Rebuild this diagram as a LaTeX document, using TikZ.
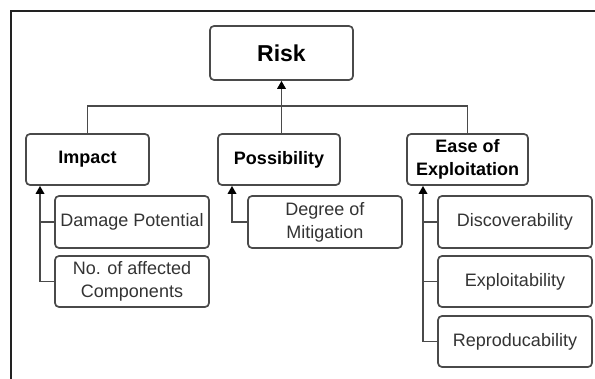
\documentclass[tikz,border=0pt]{standalone}
\usepackage{fontspec}
\setmainfont{Liberation Sans}
\usetikzlibrary{arrows.meta}
\definecolor{boxline}{HTML}{4A4A4A}
\definecolor{txt}{HTML}{333333}
\definecolor{frame}{HTML}{222222}
\tikzset{
  box/.style={draw=boxline, line width=1.7pt, rounded corners=4pt, align=center,
    inner sep=2pt, text=txt, font=\fontsize{18}{23}\selectfont},
  head/.style={box, text=black, font=\fontsize{18}{23}\selectfont\bfseries},
  link/.style={draw=boxline, line width=1.7pt},
  arr/.style={link, -{Triangle[length=8pt,width=8.5pt,color=black,fill=black]}}
}
\begin{document}
\begin{tikzpicture}[x=1pt,y=-1pt]
\useasboundingbox (0,0) rectangle (595,379);
% page frame (top and left edges)
\draw[frame, line width=2pt] (11,379) -- (11,11) -- (595,11);

% top level
\node[head, font=\fontsize{23}{27}\selectfont\bfseries, minimum width=143pt, minimum height=54pt] (risk) at (281.5,53) {Risk};

% second level
\node[head, minimum width=123pt, minimum height=51pt] (impact) at (87.5,159.5) {Impact};
\node[head, minimum width=122pt, minimum height=51pt] (poss) at (279,159.5) {Possibility};
\node[head, minimum width=121pt, minimum height=51pt] (ease) at (467.5,159.5) {Ease of\\Exploitation};

% third level
\node[box, minimum width=154pt, minimum height=52pt] (damage) at (132,222) {Damage Potential};
\node[box, minimum width=154pt, minimum height=51pt] (noaff) at (132,281.5) {No. of affected\\Components};
\node[box, minimum width=154pt, minimum height=52pt] (degree) at (325,222) {Degree of\\Mitigation};
\node[box, minimum width=154pt, minimum height=52pt] (disc) at (515,222) {Discoverability};
\node[box, minimum width=154pt, minimum height=51pt] (expl) at (515,281.5) {Exploitability};
\node[box, minimum width=154pt, minimum height=51pt] (repro) at (515,341.5) {Reproducability};

% bus joining the second level to Risk
\coordinate (bus) at (0,106);
\draw[link] (impact.north) -- (impact.north |- bus) -- (ease.north |- bus) -- (ease.north);
\draw[arr] (poss.north -| risk.south) -- (risk.south);

% trunks of the third level
\coordinate (ia) at (40,0);
\coordinate (pa) at (232,0);
\coordinate (ea) at (423,0);

\draw[arr] (noaff.west) -| (ia |- impact.south);
\draw[link] (damage.west) -- (damage.west -| ia);

\draw[arr] (degree.west) -| (pa |- poss.south);

\draw[arr] (repro.west) -| (ea |- ease.south);
\draw[link] (disc.west) -- (disc.west -| ea);
\draw[link] (expl.west) -- (expl.west -| ea);
\end{tikzpicture}
\end{document}
